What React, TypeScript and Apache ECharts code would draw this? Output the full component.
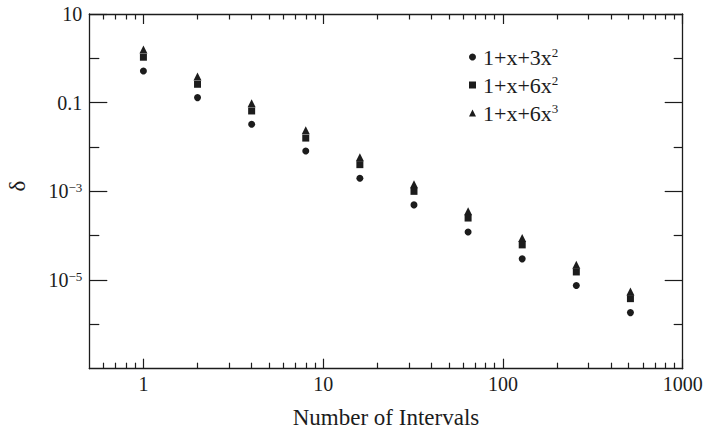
import React, { useEffect, useRef } from "react";
import * as echarts from "echarts";

// ---- data ----
const intervals = [1, 2, 4, 8, 16, 32, 64, 128, 256, 512];
const seriesNames = ["1+x+3x²", "1+x+6x²", "1+x+6x³"];
const deltaA = [0.52, 0.13, 0.0325, 0.0081, 0.00198, 4.95e-4, 1.21e-4, 3.0e-5, 7.5e-6, 1.84e-6];
const deltaB = [1.06, 0.26, 0.065, 0.0159, 0.004, 1.0e-3, 2.5e-4, 6.2e-5, 1.52e-5, 3.8e-6];
const deltaC = [1.59, 0.389, 0.0968, 0.0238, 0.0059, 1.45e-3, 3.55e-4, 8.9e-5, 2.21e-5, 5.5e-6];

const xRange = [0.5, 1000];
const yRange = [1e-7, 10];
const xTickLabels = [1, 10, 100, 1000];
const xMinorTicks = [
  0.6, 0.7, 0.8, 0.9, 2, 3, 4, 5, 6, 7, 8, 9, 20, 30, 40, 50, 60, 70, 80, 90,
  200, 300, 400, 500, 600, 700, 800, 900,
];
const yTickLabels = [10, 0.1, 1e-3, 1e-5];
const yMinorTicks = [1, 1e-2, 1e-4, 1e-6];
const xTitle = "Number of Intervals";
const yTitle = "δ";

const FONT = "'Liberation Serif', 'Times New Roman', serif";
const INK = "#1c1c1c";

const lg = (v: number) => Math.log10(v);

const fmtX = (v: number) => String(Math.round(Math.pow(10, v)));
const fmtY = (v: number) => {
  const e = Math.round(v);
  if (e >= 0) return String(Math.round(Math.pow(10, e)));
  if (e === -1) return "0.1";
  return `10{sup|\u2212${-e}}`;
};
const fmtLegend = (name: string) =>
  name.replace("²", "{sup|2}").replace("³", "{sup|3}");

export default function App() {
  const ref = useRef<HTMLDivElement>(null);
  useEffect(() => {
    if (!ref.current) return;
    const chart = echarts.init(ref.current, undefined, { renderer: "svg" });
    const axisLine = { show: true, onZero: false, lineStyle: { color: INK, width: 1.3 } };
    const noLine = { show: false, onZero: false };
    const tickStyle = { color: INK, width: 1.2 };
    const xBase = {
      type: "value" as const,
      min: lg(xRange[0]),
      max: lg(xRange[1]),
      splitLine: { show: false },
    };
    const yBase = {
      type: "value" as const,
      min: lg(yRange[0]),
      max: lg(yRange[1]),
      splitLine: { show: false },
    };
    const sup = { fontSize: 13, lineHeight: 12, verticalAlign: "top", fontFamily: FONT, color: INK };
    const mk = (data: number[]) => intervals.map((x, i) => [lg(x), lg(data[i])]);

    chart.setOption({
      animation: false,
      backgroundColor: "#ffffff",
      grid: {
        left: 89.3,
        right: 22.3,
        top: 14,
        bottom: 60.3,
        containLabel: false,
        outerBoundsMode: "none",
      },
      graphic: [
        {
          type: "text",
          x: 17,
          y: 186,
          rotation: Math.PI / 2,
          style: {
            text: yTitle,
            fontFamily: FONT,
            fontSize: 23,
            fill: INK,
            align: "center",
            verticalAlign: "middle",
          },
        },
      ],
      xAxis: [
        {
          ...xBase,
          position: "bottom",
          axisLine,
          axisTick: { show: true, inside: true, length: 10, lineStyle: tickStyle, customValues: xTickLabels.map(lg) },
          axisLabel: {
            show: true,
            margin: 5,
            customValues: xTickLabels.map(lg),
            formatter: fmtX,
            fontFamily: FONT,
            fontSize: 20,
            color: INK,
          },
          name: xTitle,
          nameLocation: "middle",
          nameGap: 37,
          nameTextStyle: { fontFamily: FONT, fontSize: 23, color: INK },
        },
        {
          ...xBase,
          position: "bottom",
          axisLine: noLine,
          axisTick: { show: true, inside: true, length: 6, lineStyle: tickStyle, customValues: xMinorTicks.map(lg) },
          axisLabel: { show: false },
        },
        {
          ...xBase,
          position: "top",
          axisLine,
          axisTick: { show: true, inside: true, length: 10, lineStyle: tickStyle, customValues: xTickLabels.map(lg) },
          axisLabel: { show: false },
        },
        {
          ...xBase,
          position: "top",
          axisLine: noLine,
          axisTick: { show: true, inside: true, length: 5.5, lineStyle: tickStyle, customValues: xMinorTicks.map(lg) },
          axisLabel: { show: false },
        },
      ],
      yAxis: [
        {
          ...yBase,
          position: "left",
          axisLine,
          axisTick: { show: true, inside: true, length: 18, lineStyle: tickStyle, customValues: yTickLabels.map(lg) },
          axisLabel: {
            show: true,
            margin: 7,
            customValues: yTickLabels.map(lg),
            formatter: fmtY,
            fontFamily: FONT,
            fontSize: 20,
            color: INK,
            rich: { sup },
          },
        },
        {
          ...yBase,
          position: "left",
          axisLine: noLine,
          axisTick: { show: true, inside: true, length: 10, lineStyle: tickStyle, customValues: yMinorTicks.map(lg) },
          axisLabel: { show: false },
        },
        {
          ...yBase,
          position: "right",
          axisLine,
          axisTick: { show: true, inside: true, length: 18, lineStyle: tickStyle, customValues: yTickLabels.map(lg) },
          axisLabel: { show: false },
        },
        {
          ...yBase,
          position: "right",
          axisLine: noLine,
          axisTick: { show: true, inside: true, length: 9, lineStyle: tickStyle, customValues: yMinorTicks.map(lg) },
          axisLabel: { show: false },
        },
      ],
      legend: {
        orient: "vertical",
        left: 469,
        top: 46,
        padding: 0,
        itemGap: 6,
        itemWidth: 7,
        itemHeight: 7,
        data: seriesNames,
        formatter: fmtLegend,
        textStyle: {
          fontFamily: FONT,
          fontSize: 22,
          lineHeight: 22,
          color: INK,
          padding: [0, 0, 0, 2],
          rich: { sup },
        },
      },
      series: [
        {
          name: seriesNames[0],
          type: "scatter",
          symbol: "circle",
          symbolSize: 7,
          itemStyle: { color: INK, opacity: 1 },
          data: mk(deltaA),
          z: 3,
        },
        {
          name: seriesNames[1],
          type: "scatter",
          symbol: "rect",
          symbolSize: 7,
          itemStyle: { color: INK, opacity: 1 },
          data: mk(deltaB),
          z: 3,
        },
        {
          name: seriesNames[2],
          type: "scatter",
          symbol: "triangle",
          symbolSize: [8, 8],
          itemStyle: { color: INK, opacity: 1 },
          data: mk(deltaC),
          z: 2,
        },
      ],
    });
    return () => chart.dispose();
  }, []);
  return (
    <div
      ref={ref}
      style={{ position: "absolute", left: 0, top: 0, width: 705, height: 429, background: "#fff" }}
    />
  );
}
